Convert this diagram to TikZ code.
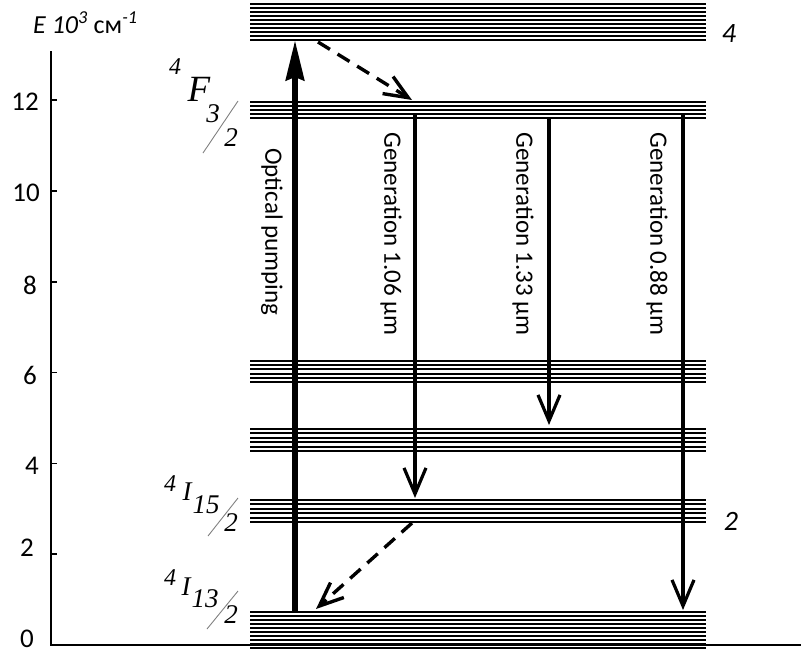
\documentclass[tikz,border=0pt]{standalone}
\usepackage{fontspec}
\setmainfont{Liberation Serif}
\newfontfamily\calib{Carlito}
\usetikzlibrary{arrows.meta}
\begin{document}
\begin{tikzpicture}[x=1pt,y=-1pt,
  lev/.style={line width=1.4pt},
  axisline/.style={line width=2pt},
  tickline/.style={line width=1.6pt},
  ticklab/.style={inner sep=0pt,font=\calib\fontsize{27}{30}\selectfont},
  rightlab/.style={inner sep=0pt,font=\calib\itshape\fontsize{28}{32}\selectfont},
  gentext/.style={inner sep=0pt,rotate=-90,font=\calib\fontsize{25}{28}\selectfont},
  termbig/.style={inner sep=0pt,text height=0.66em,text depth=0pt,font=\itshape\fontsize{37}{40}\selectfont},
  termmid/.style={inner sep=0pt,text height=0.68em,text depth=0pt,font=\itshape\fontsize{27}{30}\selectfont},
  termsup/.style={inner sep=0pt,text height=0.68em,text depth=0pt,font=\itshape\fontsize{24}{28}\selectfont},
  slashline/.style={line width=0.9pt,gray},
  pump/.style={line width=6.5pt,-{Stealth[length=40pt,width=18pt,inset=3pt]}},
  genarrow/.style={line width=3.2pt,-{Straight Barb[length=26pt,width=22pt,line width=3.2pt]}},
  relax/.style={line width=3.4pt,dash pattern=on 14pt off 9pt,-{Straight Barb[length=24pt,width=20pt,line width=3.4pt]}}
]
\useasboundingbox (0,0) rectangle (808,653);
% axes
\coordinate (ytop) at (51,51);
\coordinate (orig) at (51,645);
\coordinate (xend) at (801,645);
\draw[axisline] (ytop) -- (orig) -- (xend);
\foreach \v in {1,...,6} \draw[tickline] (51,645-90.8*\v) -- +(6,0);
\node[ticklab] (l12) at (25,102) {12};
\node[ticklab] (l10) at (26,193) {10};
\node[ticklab] (l8) at (30,285) {8};
\node[ticklab] (l6) at (30,375) {6};
\node[ticklab] (l4) at (32,466) {4};
\node[ticklab] (l2) at (27,548) {2};
\node[ticklab] (l0) at (27,639) {0};
\node[anchor=base west,inner sep=0pt,font=\calib\fontsize{26}{30}\selectfont] (elab) at (33,33)
  {\itshape E 10\textsuperscript{3} \upshape см\textsuperscript{\itshape -1}};
% levels
\foreach \y in {4,8,...,40} \draw[lev] (250,\y) -- (706,\y);
\foreach \y in {102,106,...,118} \draw[lev] (250,\y) -- (706,\y);
\foreach \y in {361,365,369,374,378,382} \draw[lev] (250,\y) -- (706,\y);
\foreach \y in {429,433,438,442,447,451} \draw[lev] (250,\y) -- (706,\y);
\foreach \y in {500,504,509,513,518,522} \draw[lev] (250,\y) -- (706,\y);
\foreach \y in {612,616,...,648} \draw[lev] (250,\y) -- (706,\y);
% right labels
\node[rightlab] (r4) at (729,34) {4};
\node[rightlab] (r2) at (731,521) {2};
% term labels
\node[termsup] (f4) at (175,71) {4};
\node[termbig] (fF) at (199,98) {F};
\node[termmid] (f3) at (213,119) {3};
\node[termmid] (f2) at (231,143) {2};
\coordinate (fsA) at (238,101); \coordinate (fsB) at (203,153);
\draw[slashline] (fsA) -- (fsB);
\node[termsup] (a4) at (170,488) {4};
\node[termmid] (aI) at (187,497) {I};
\node[termmid] (a15) at (206,510) {15};
\node[termmid] (a2) at (231,528) {2};
\coordinate (asA) at (238,498); \coordinate (asB) at (208,536);
\draw[slashline] (asA) -- (asB);
\node[termsup] (b4) at (170,582) {4};
\node[termmid] (bI) at (186,592) {I};
\node[termmid] (b13) at (205,604) {13};
\node[termmid] (b2) at (231,620) {2};
\coordinate (bsA) at (238,591); \coordinate (bsB) at (207,629);
\draw[slashline] (bsA) -- (bsB);
% arrows
\coordinate (opA) at (295,612); \coordinate (opB) at (295,40);
\draw[pump] (opA) -- (opB);
\node[gentext] (top) at (272,232) {Optical pumping};
\coordinate (g1A) at (415,115); \coordinate (g1B) at (415,498);
\draw[genarrow] (g1A) -- (g1B);
\node[gentext] (tg1) at (391,234) {Generation 1.06 µm};
\coordinate (g2A) at (549,117); \coordinate (g2B) at (549,425);
\draw[genarrow] (g2A) -- (g2B);
\node[gentext] (tg2) at (523,234) {Generation 1.33 µm};
\coordinate (g3A) at (683,113); \coordinate (g3B) at (683,610);
\draw[genarrow] (g3A) -- (g3B);
\node[gentext] (tg3) at (657,234) {Generation 0.88 µm};
\coordinate (d1A) at (318,42); \coordinate (d1B) at (412,100);
\draw[relax] (d1A) -- (d1B);
\coordinate (d2A) at (412,523); \coordinate (d2B) at (316,609);
\draw[relax] (d2A) -- (d2B);
\end{tikzpicture}
\end{document}
